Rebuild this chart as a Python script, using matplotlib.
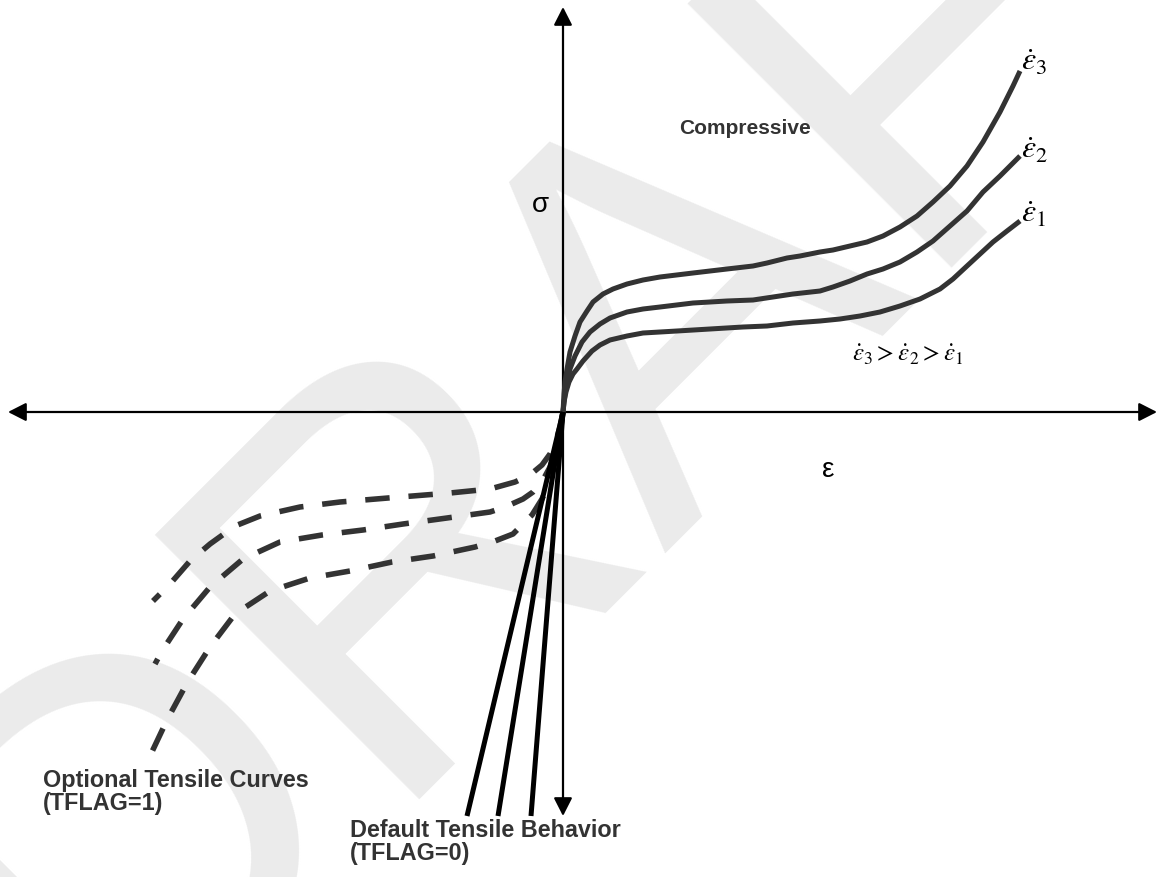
import matplotlib
matplotlib.use("Agg")
import matplotlib.pyplot as plt

plt.rcParams["font.family"] = ["Liberation Sans", "DejaVu Sans"]
plt.rcParams["mathtext.fontset"] = "stix"

# compressive curves (strain, stress), arbitrary units
c3_eps = [0, 0.01, 0.02, 0.04, 0.07, 0.12, 0.17, 0.24, 0.30, 0.40, 0.50, 0.64, 0.80, 0.97, 1.30, 1.64, 1.90,
          2.04, 2.24, 2.37, 2.57, 2.70, 2.87, 3.04, 3.20, 3.37, 3.54, 3.70, 3.87, 4.04, 4.20, 4.37, 4.50, 4.57]
c3_sig = [0, 0.18, 0.30, 0.43, 0.60, 0.76, 0.90, 1.01, 1.10, 1.18, 1.23, 1.28, 1.32, 1.35, 1.39, 1.43, 1.46,
          1.49, 1.54, 1.56, 1.60, 1.62, 1.66, 1.70, 1.76, 1.85, 1.96, 2.10, 2.26, 2.46, 2.70, 3.00, 3.26, 3.41]

c2_eps = [0, 0.02, 0.04, 0.07, 0.12, 0.19, 0.27, 0.37, 0.47, 0.64, 0.80, 0.97, 1.30, 1.64, 1.90, 2.10, 2.30,
          2.57, 2.70, 2.87, 3.04, 3.20, 3.37, 3.54, 3.70, 3.87, 4.04, 4.20, 4.37, 4.57]
c2_sig = [0, 0.18, 0.30, 0.43, 0.56, 0.70, 0.80, 0.88, 0.94, 1.00, 1.03, 1.05, 1.09, 1.11, 1.12, 1.15, 1.18,
          1.21, 1.25, 1.31, 1.38, 1.43, 1.50, 1.60, 1.71, 1.86, 2.01, 2.20, 2.36, 2.56]

c1_eps = [0, 0.01, 0.03, 0.06, 0.10, 0.14, 0.20, 0.29, 0.37, 0.47, 0.64, 0.80, 1.14, 1.47, 1.80, 2.04, 2.30,
          2.57, 2.77, 2.97, 3.17, 3.37, 3.57, 3.77, 3.90, 4.04, 4.17, 4.30, 4.44, 4.57]
c1_sig = [0, 0.10, 0.20, 0.30, 0.38, 0.43, 0.51, 0.61, 0.67, 0.72, 0.76, 0.79, 0.81, 0.83, 0.85, 0.86, 0.89,
          0.91, 0.93, 0.96, 1.00, 1.06, 1.13, 1.23, 1.33, 1.46, 1.58, 1.70, 1.81, 1.91]

# optional tensile curves (TFLAG=1)
t3_eps = [0, -0.03, -0.07, -0.13, -0.21, -0.33, -0.48, -0.73, -1.13, -1.63, -2.23, -2.63, -3.03, -3.28, -3.53,
          -3.73, -3.93, -4.10]
t3_sig = [0, -0.15, -0.29, -0.42, -0.53, -0.63, -0.70, -0.77, -0.81, -0.85, -0.90, -0.95, -1.04, -1.14, -1.32,
          -1.49, -1.72, -1.89]

t2_eps = [0, -0.03, -0.07, -0.13, -0.20, -0.30, -0.40, -0.58, -0.73, -1.16, -1.60, -2.00, -2.41, -2.83, -3.20,
          -3.53, -3.80, -4.01, -4.08]
t2_sig = [0, -0.19, -0.37, -0.55, -0.68, -0.80, -0.87, -0.95, -1.00, -1.06, -1.12, -1.18, -1.23, -1.30, -1.47,
          -1.75, -2.07, -2.39, -2.52]

t1_eps = [0, -0.03, -0.07, -0.13, -0.21, -0.31, -0.43, -0.50, -0.68, -0.88, -1.30, -1.71, -2.13, -2.53, -2.93,
          -3.28, -3.53, -3.76, -3.96, -4.13, -4.17]
t1_sig = [0, -0.22, -0.45, -0.69, -0.87, -1.03, -1.15, -1.22, -1.29, -1.35, -1.44, -1.50, -1.59, -1.66, -1.79,
          -2.02, -2.35, -2.71, -3.08, -3.44, -3.52]

# default tensile behaviour (TFLAG=0): straight lines from the origin
default_end_eps = [-0.96, -0.65, -0.32]
default_end_sig = [-4.04, -4.04, -4.04]

rate_labels = [r"$\dot{\varepsilon}_3$", r"$\dot{\varepsilon}_2$", r"$\dot{\varepsilon}_1$"]

fig = plt.figure(figsize=(11.57, 8.78), dpi=100)
ax = fig.add_axes([0, 0, 1, 1])
ax.set_xlim(-5.63, 5.94)
ax.set_ylim(-4.65, 4.13)
ax.axis("off")

# DRAFT watermark
ax.text(0.75, 0.75, "DRAFT", fontsize=390, rotation=45, color="#ebebeb",
        ha="center", va="center", zorder=0, clip_on=True)

# axes with arrows
ax.annotate("", xy=(5.94, 0), xytext=(-5.55, 0),
            arrowprops=dict(arrowstyle="<|-|>,head_length=0.55,head_width=0.28",
                            mutation_scale=20, lw=1.6, color="black", shrinkA=0, shrinkB=0))
ax.annotate("", xy=(0, 4.05), xytext=(0, -4.04),
            arrowprops=dict(arrowstyle="<|-|>,head_length=0.55,head_width=0.28",
                            mutation_scale=20, lw=1.6, color="black", shrinkA=0, shrinkB=0))

curve_color = "#333333"
for e, s in [(c3_eps, c3_sig), (c2_eps, c2_sig), (c1_eps, c1_sig)]:
    ax.plot(e, s, color=curve_color, lw=3.6, solid_capstyle="butt", solid_joinstyle="round", zorder=3)

for e, s in [(t3_eps, t3_sig), (t2_eps, t2_sig), (t1_eps, t1_sig)]:
    ax.plot(e, s, color=curve_color, lw=4.0, dashes=(4.4, 3.4), zorder=3)

for e, s in zip(default_end_eps, default_end_sig):
    ax.plot([0, e], [0, s], color="black", lw=3.6, solid_capstyle="butt", zorder=4)

# labels
label_pos = [(4.58, 3.50), (4.58, 2.62), (4.58, 1.98)]
for (x, y), lab in zip(label_pos, rate_labels):
    ax.text(x, y, lab, fontsize=23, ha="left", va="center")

ax.text(3.45, 0.58, r"$\dot{\varepsilon}_3 > \dot{\varepsilon}_2 > \dot{\varepsilon}_1$",
        fontsize=18, ha="center", va="center")
ax.text(1.82, 2.85, "Compressive", fontsize=15, fontweight="bold", color="#333333",
        ha="center", va="center")
ax.text(-0.23, 2.08, "σ", fontsize=20, ha="center", va="center")
ax.text(2.65, -0.57, "ε", fontsize=20, ha="center", va="center")
ax.text(-5.20, -3.56, "Optional Tensile Curves\n(TFLAG=1)", fontsize=16.8, fontweight="bold",
        color="#333333", ha="left", va="top", linespacing=1.0)
ax.text(-2.13, -4.06, "Default Tensile Behavior\n(TFLAG=0)", fontsize=16.8, fontweight="bold",
        color="#333333", ha="left", va="top", linespacing=1.0)

fig.savefig("out.png", dpi=100)
